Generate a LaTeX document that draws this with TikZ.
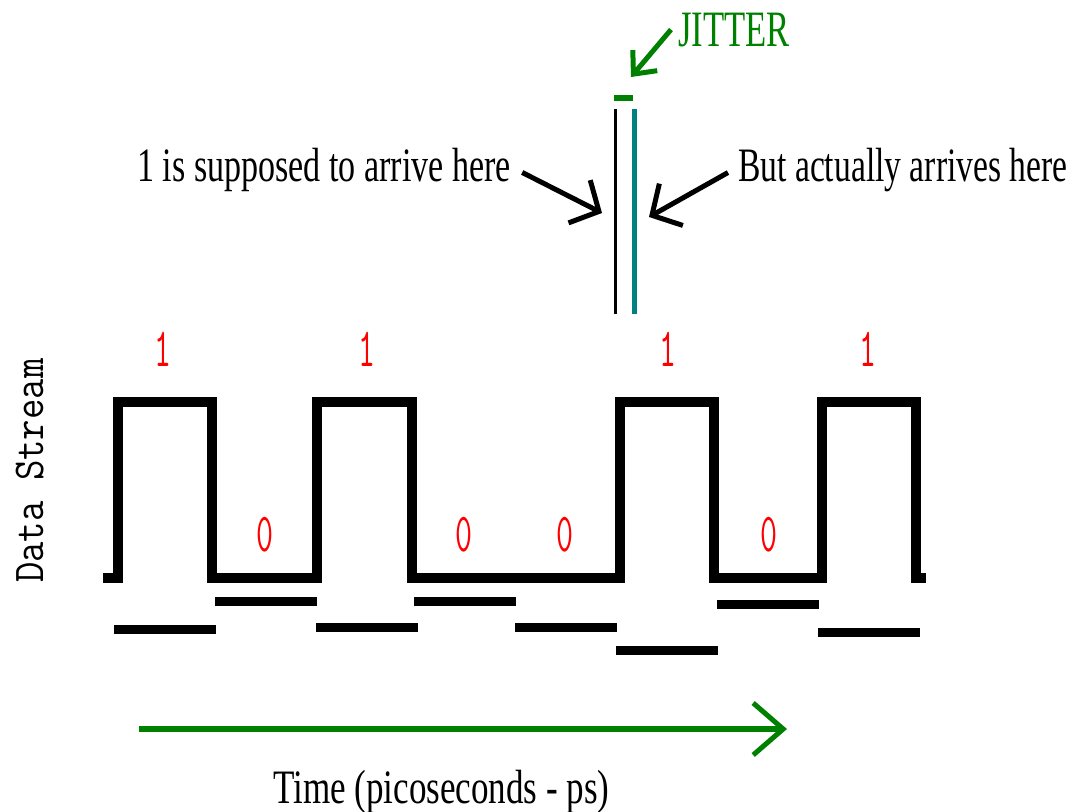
\documentclass[tikz,border=0pt]{standalone}
\usepackage{fontspec}
\setmainfont{Liberation Serif}
\usepackage{graphicx}
\usepackage{xcolor}
\usepackage{tikz}
\usetikzlibrary{arrows.meta}
\definecolor{jittergreen}{RGB}{0,128,0}
\definecolor{jitterteal}{RGB}{0,128,128}
\newcommand{\squeeze}[2][0.7]{\scalebox{#1}[1]{#2}}
\newcommand{\bitfont}{\fontsize{55}{57}\selectfont\ttfamily}

\begin{document}
\begin{tikzpicture}[x=1pt,y=-1pt,
	captext/.style={inner sep=0pt, anchor=base west, font=\fontsize{48}{50}\selectfont},
	bitlabel/.style={inner sep=0pt, anchor=base, text=red, font=\bitfont},
	bitbar/.style={line width=9pt},
	pointer/.style={line width=5pt, -{Straight Barb[length=22pt,width=48pt]}}]
	\useasboundingbox (0,0) rectangle (1072,812);
	
	% Draw the data stream waveform
	\def\low{578} % Level of a 0
	\def\high{402} % Level of a 1
	\draw[line width=10pt, line join=miter] (103,\low) -- (118,\low) -- (118,\high) -- (212,\high) -- (212,\low)
		-- (317,\low) -- (317,\high) -- (412,\high) -- (412,\low) -- (620,\low) -- (620,\high)
		-- (714,\high) -- (714,\low) -- (822,\low) -- (822,\high) -- (916,\high) -- (916,\low) -- (926,\low);
	
	% Bit values above the waveform
	\foreach \x/\b/\y [count=\i] in {163/1/366, 265/0/551, 367/1/366, 464/0/551, 565/0/551, 668/1/366, 769/0/551, 868/1/366} {
		\node[bitlabel] (bit-\i) at (\x,\y) {\squeeze[0.6]{\b}};
	}
	
	% Bars under each bit period
	\foreach \xa/\xb/\y in {114/216/629, 215/317/601, 316/418/627, 414/516/601, 515/617/627, 616/718/650, 717/819/604, 818/920/632} {
		\draw[bitbar] (\xa,\y) -- (\xb,\y);
	}
	
	% Ideal edge, actual edge and the jitter between them
	\coordinate (idealtop) at (615.5,109);
	\coordinate (idealbot) at (615.5,314);
	\coordinate (actualtop) at (634.5,109);
	\coordinate (actualbot) at (634.5,314);
	\coordinate (jitterleft) at (614,98);
	\coordinate (jitterright) at (633,98);
	\draw[line width=3pt] (idealtop) -- (idealbot);
	\draw[jitterteal, line width=5pt] (actualtop) -- (actualbot);
	\draw[jittergreen, line width=6pt] (jitterleft) -- (jitterright);
	
	% Labels for the two edges
	\node[captext] (supposed) at (137,181) {\squeeze[0.71]{1 is supposed to arrive here}};
	\node[captext] (actually) at (738,181) {\squeeze{But actually arrives here}};
	\node[captext, text=jittergreen, font=\fontsize{51}{53}\selectfont] (jitter) at (678,46) {\squeeze[0.68]{JITTER}};
	
	\coordinate (idealpt) at (602,213);
	\coordinate (actualpt) at (649,217);
	\coordinate (jitterpt) at (631,77);
	\draw[pointer] ([shift={(11,3)}]supposed.east) -- (idealpt);
	\draw[pointer] ([shift={(-10,3)}]actually.west) -- (actualpt);
	\draw[pointer, jittergreen, -{Straight Barb[length=18pt,width=32pt]}] ([xshift=-7pt]jitter.west) -- (jitterpt);
	
	% Time axis
	\coordinate (tstart) at (139,729);
	\coordinate (tend) at (787,729);
	\draw[jittergreen, line width=6pt, -{Straight Barb[length=30pt,width=52pt,line width=5pt]}] (tstart) -- (tend);
	\node[captext] (time) at (273,803) {\squeeze[0.73]{Time (picoseconds - ps)}};
	
	% Label for the vertical axis
	\node[rotate=90, anchor=base west, inner sep=0pt, font=\fontsize{44}{46}\selectfont\ttfamily] (ylabel) at (43,583) {\squeeze[0.9]{Data Stream}};
\end{tikzpicture}
\end{document}
